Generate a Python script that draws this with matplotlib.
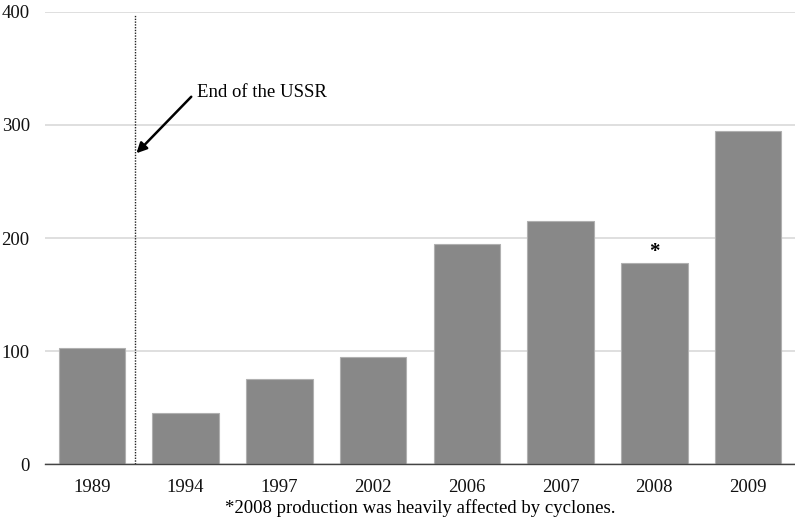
import matplotlib.pyplot as plt

years = ["1989", "1994", "1997", "2002", "2006", "2007", "2008", "2009"]
production = [103, 45, 75, 95, 195, 215, 178, 295]
y_ticks = [0, 100, 200, 300, 400]

plt.rcParams["font.family"] = ["Liberation Serif", "DejaVu Serif"]

fig = plt.figure(figsize=(7.95, 5.17), dpi=100)
ax = fig.add_axes([0.0566, 0.1025, 0.9434, 0.8743])

x = range(len(years))
ax.bar(x, production, width=0.71, color="#888888", edgecolor="#b0b0b0", linewidth=0.8, zorder=3)

ax.set_xlim(-0.5, len(years) - 0.5)
ax.set_ylim(0, 400)
ax.set_yticks(y_ticks)
ax.set_xticks(list(x))
ax.set_xticklabels(years)
ax.grid(axis="y", color="#d9d9d9", linewidth=1.2, zorder=0)
ax.tick_params(axis="both", length=0, labelsize=13.5, colors="#111111")
ax.tick_params(axis="x", pad=11)
ax.tick_params(axis="y", pad=11)
for side in ["top", "right", "left"]:
    ax.spines[side].set_visible(False)
ax.spines["bottom"].set_color("#444444")
ax.spines["bottom"].set_linewidth(1.0)
ax.spines["bottom"].set_zorder(4)

# end of the USSR marker
ax.plot([0.465, 0.465], [0, 398], linestyle=(0, (1, 1)), color="#222222", linewidth=1.0, zorder=4)
ax.annotate("", xy=(0.475, 275), xytext=(1.06, 325),
            arrowprops=dict(arrowstyle="-|>", color="black", lw=1.8,
                            mutation_scale=15, shrinkA=0, shrinkB=0))
ax.text(1.12, 329, "End of the USSR", fontsize=13.5, ha="left", va="center")

ax.text(6, production[6] + 1, "*", ha="center", va="bottom", fontsize=15, fontweight="bold")

fig.text(0.528, 0.0, "*2008 production was heavily affected by cyclones.",
         ha="center", va="bottom", fontsize=13.5)

fig.savefig("out.png", dpi=100)
